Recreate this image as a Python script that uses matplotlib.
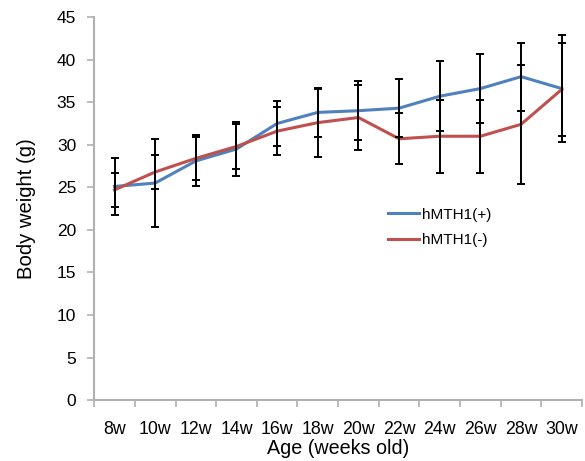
import matplotlib.pyplot as plt
import numpy as np

plt.rcParams['font.family'] = ['Liberation Sans', 'DejaVu Sans']

# data
weeks = ["8w", "10w", "12w", "14w", "16w", "18w", "20w", "22w", "24w", "26w", "28w", "30w"]
plus_mean = [25.1, 25.5, 28.1, 29.5, 32.5, 33.8, 34.0, 34.3, 35.7, 36.6, 38.0, 36.6]
plus_err = [3.3, 5.2, 3.0, 3.2, 2.6, 2.9, 3.5, 3.4, 4.1, 4.1, 4.0, 6.3]
minus_mean = [24.7, 26.8, 28.4, 29.8, 31.6, 32.6, 33.2, 30.7, 31.0, 31.0, 32.4, 36.5]
minus_err = [2.0, 2.0, 2.5, 2.6, 2.8, 4.0, 3.8, 3.0, 4.3, 4.3, 7.0, 5.5]

blue = "#4f81bd"
red = "#c0504d"
grey = "#b0b0b0"

fig = plt.figure(figsize=(5.85, 4.61), dpi=100)
ax = fig.add_axes([0.161, 0.132, 0.834, 0.831])

x = np.arange(len(weeks))

ax.plot(x, plus_mean, color=blue, lw=2.2, label="hMTH1(+)", zorder=2)
ax.plot(x, minus_mean, color=red, lw=2.2, label="hMTH1(-)", zorder=2)
ax.errorbar(x, plus_mean, yerr=plus_err, fmt="none", ecolor="black",
            elinewidth=1.4, capsize=3, capthick=1.4, zorder=3)
ax.errorbar(x, minus_mean, yerr=minus_err, fmt="none", ecolor="black",
            elinewidth=1.4, capsize=3, capthick=1.4, zorder=3)

ax.set_xlim(-0.5, len(weeks) - 0.5)
ax.set_ylim(0, 45)
ax.set_yticks(np.arange(0, 46, 5))

# ticks on category boundaries, labels in the middle
ax.set_xticks(np.arange(-0.5, len(weeks), 1.0))
ax.set_xticklabels([])
ax.set_xticks(x, minor=True)
ax.set_xticklabels(weeks, minor=True)
ax.tick_params(axis="x", which="minor", length=0, pad=15, labelsize=12.8)
ax.tick_params(axis="x", which="major", length=5, color=grey, width=1.2)
ax.tick_params(axis="y", length=5, color=grey, width=1.2, labelsize=12.5, pad=8)

for s in ["top", "right"]:
    ax.spines[s].set_visible(False)
for s in ["left", "bottom"]:
    ax.spines[s].set_color(grey)
    ax.spines[s].set_linewidth(1.5)

ax.set_xlabel("Age (weeks old)", fontsize=14.2, labelpad=0.5)
ax.set_ylabel("Body weight (g)", fontsize=14.6, labelpad=15)

ax.legend(loc="upper left", bbox_to_anchor=(0.64, 0.579), bbox_transform=fig.transFigure,
          frameon=False, fontsize=11, handlelength=2.0, handletextpad=0.2, labelspacing=0.75)

fig.savefig("out.png", dpi=100)
